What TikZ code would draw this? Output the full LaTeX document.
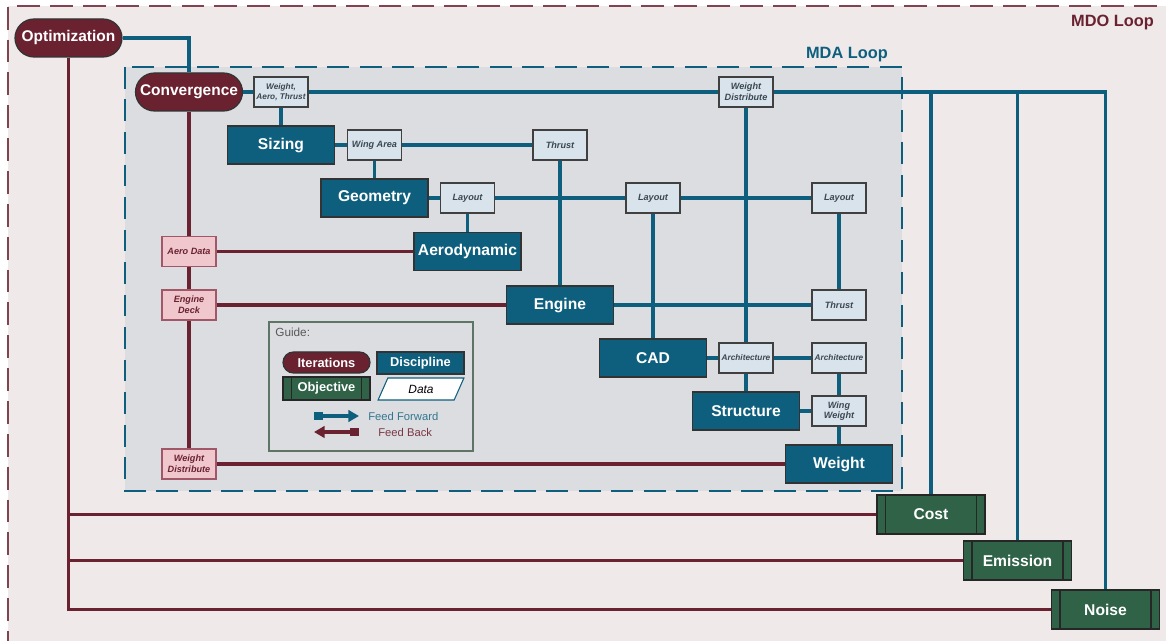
\documentclass[tikz,border=0pt]{standalone}
\usepackage{fontspec}
\setmainfont{Liberation Sans}
\usetikzlibrary{arrows.meta,shapes.geometric}
\definecolor{mdored}{HTML}{6B2230}
\definecolor{mdablue}{HTML}{0E5F7D}
\definecolor{objgreen}{HTML}{2F6246}
\definecolor{datafill}{HTML}{D9E3EC}
\definecolor{datatext}{HTML}{3A4852}
\definecolor{fbfill}{HTML}{EFC7CD}
\definecolor{fbedge}{HTML}{A05868}
\definecolor{mdobg}{HTML}{EFE9EA}
\definecolor{mdabg}{HTML}{DCDDE0}
\definecolor{guideedge}{HTML}{5E7466}

\begin{document}
\begin{tikzpicture}[x=0.02cm,y=-0.02cm,
		iter/.style={draw=black!80,line width=0.7pt,fill=mdored,text=white,inner sep=0pt,
			font=\fontsize{8.8}{10}\selectfont\bfseries,minimum width=2.14cm,minimum height=0.76cm,rounded corners=0.38cm},
		disc/.style={draw=black!80,line width=0.7pt,fill=mdablue,text=white,inner sep=0pt,
			font=\fontsize{8.9}{10}\selectfont\bfseries,minimum width=2.14cm,minimum height=0.76cm},
		objv/.style={draw=black!85,line width=0.7pt,fill=objgreen,text=white,inner sep=0pt,
			font=\fontsize{8.9}{10}\selectfont\bfseries,minimum width=2.16cm,minimum height=0.78cm,
			path picture={
				\draw[black!85,line width=0.7pt] ([xshift=0.17cm]path picture bounding box.north west) -- ([xshift=0.17cm]path picture bounding box.south west);
				\draw[black!85,line width=0.7pt] ([xshift=-0.17cm]path picture bounding box.north east) -- ([xshift=-0.17cm]path picture bounding box.south east);
			}},
		datum/.style={draw=black!75,line width=0.8pt,fill=datafill,text=datatext,inner sep=0pt,align=center,
			font=\fontsize{5.2}{6.1}\selectfont\bfseries\itshape,minimum width=1.08cm,minimum height=0.6cm},
		smalldatum/.style={datum,font=\fontsize{4.7}{5.7}\selectfont\bfseries\itshape},
		fbdata/.style={datum,draw=fbedge,fill=fbfill,text=mdored},
		ffline/.style={draw=mdablue,line width=1.9pt},
		fbline/.style={draw=mdored,line width=1.9pt}]
		\clip (0,0) rectangle (1166,641);
		\fill [white] (0,0) rectangle (1166,641);
		\fill [mdobg] (8,6) rectangle (1190,660);
		\draw [mdored!85,line width=1.1pt,dash pattern=on 13pt off 5.7pt] (1190,6) -- (8,6) -- (8,660);
		\fill [mdabg] (125,67) rectangle (902,491);
		\draw [mdablue,line width=1pt,dash pattern=on 12.5pt off 6pt] (125,67) rectangle (902,491);
		\node [anchor=east,text=mdored,font=\fontsize{9.3}{11}\selectfont\bfseries] (mdolbl) at (1160,22) {MDO Loop};
		\node [anchor=east,text=mdablue,font=\fontsize{9.3}{11}\selectfont\bfseries] (mdalbl) at (894,55) {MDA Loop};
		%
		\node [iter] (opt) at (68.5,38) {Optimization};
		\node [iter] (conv) at (189,92) {Convergence};
		\node [smalldatum] (wat) at (281,92) {Weight,\\Aero, Thrust};
		\node [datum] (wdtop) at (746,92) {Weight\\Distribute};
		\node [disc] (sizing) at (281,145) {Sizing};
		\node [datum] (wingarea) at (374.5,145) {Wing Area};
		\node [datum] (thrusta) at (560,145) {Thrust};
		\node [disc] (geom) at (374.5,198) {Geometry};
		\node [datum] (layouta) at (467.5,198) {Layout};
		\node [datum] (layoutb) at (653,198) {Layout};
		\node [datum] (layoutc) at (839,198) {Layout};
		\node [disc] (aero) at (467.5,251.5) {Aerodynamic};
		\node [disc] (engine) at (560,305) {Engine};
		\node [datum] (thrustb) at (839,305) {Thrust};
		\node [disc] (cad) at (653,358) {CAD};
		\node [smalldatum] (archa) at (746,358) {Architecture};
		\node [smalldatum] (archb) at (839,358) {Architecture};
		\node [disc] (struct) at (746,411) {Structure};
		\node [datum] (wingwt) at (839,411) {Wing\\Weight};
		\node [disc] (weight) at (839,464) {Weight};
		\node [fbdata] (aerodata) at (189,251.5) {Aero Data};
		\node [fbdata] (engdeck) at (189,305) {Engine\\Deck};
		\node [fbdata] (wdleft) at (189,464) {Weight\\Distribute};
		\node [objv] (cost) at (931,514.5) {Cost};
		\node [objv] (emission) at (1017.5,560.5) {Emission};
		\node [objv] (noise) at (1105.5,609.5) {Noise};
		%
		% feed forward
		\draw [ffline] (opt.east) -| (conv.north);
		\draw [ffline] (conv.east) -- (wat.west);
		\draw [ffline] (wat.east) -- (wdtop.west);
		\draw [ffline] (wdtop.east) -| (noise.north);
		\foreach \obj in {cost,emission}
			\draw [ffline] (wdtop.east -| \obj.north) -- (\obj.north);
		\draw [ffline] (wat.south) -- (sizing.north);
		\draw [ffline] (sizing.east) -- (wingarea.west);
		\draw [ffline] (wingarea.east) -- (thrusta.west);
		\draw [ffline] (wingarea.south) -- (geom.north);
		\draw [ffline] (thrusta.south) -- (engine.north);
		\draw [ffline] (geom.east) -- (layouta.west);
		\draw [ffline] (layouta.east) -- (layoutb.west);
		\draw [ffline] (layoutb.east) -- (layoutc.west);
		\draw [ffline] (layouta.south) -- (aero.north);
		\draw [ffline] (layoutb.south) -- (cad.north);
		\draw [ffline] (layoutc.south) -- (thrustb.north);
		\draw [ffline] (engine.east) -- (thrustb.west);
		\draw [ffline] (wdtop.south) -- (archa.north);
		\draw [ffline] (cad.east) -- (archa.west);
		\draw [ffline] (archa.east) -- (archb.west);
		\draw [ffline] (archa.south) -- (struct.north);
		\draw [ffline] (archb.south) -- (wingwt.north);
		\draw [ffline] (struct.east) -- (wingwt.west);
		\draw [ffline] (wingwt.south) -- (weight.north);
		% feed back
		\draw [fbline] (conv.south) -- (aerodata.north);
		\draw [fbline] (aerodata.south) -- (engdeck.north);
		\draw [fbline] (engdeck.south) -- (wdleft.north);
		\draw [fbline] (aerodata.east) -- (aero.west);
		\draw [fbline] (engdeck.east) -- (engine.west);
		\draw [fbline] (wdleft.east) -- (weight.west);
		\foreach \obj in {cost,emission,noise}
			\draw [fbline] (opt.south) |- (\obj.west);
		%
		% guide
		\node [draw=guideedge,line width=0.7pt,fill=mdabg,minimum width=4.08cm,minimum height=2.58cm] (guide) at (371,386.5) {};
		\node [anchor=west,inner sep=0pt,text=black!65,font=\fontsize{6.7}{8}\selectfont] (guidelbl) at (275,332) {Guide:};
		\node [iter,minimum width=1.74cm,minimum height=0.42cm,rounded corners=0.21cm,font=\fontsize{7.3}{8}\selectfont\bfseries] (itlg) at (326.5,362.5) {Iterations};
		\node [disc,minimum width=1.74cm,minimum height=0.44cm,font=\fontsize{7.3}{8}\selectfont\bfseries] (dislg) at (420.5,363) {Discipline};
		\node [objv,minimum width=1.74cm,minimum height=0.46cm,font=\fontsize{7.3}{8}\selectfont\bfseries] (objlg) at (326.5,388.5) {Objective};
		\node [trapezium,trapezium left angle=66,trapezium right angle=114,trapezium stretches=true,draw=mdablue,line width=0.6pt,fill=white,
			inner sep=0pt,minimum width=1.72cm,minimum height=0.44cm,font=\fontsize{6.8}{8}\selectfont\itshape] (datlg) at (421,389) {Data};
		\coordinate (ffa) at (314,416);
		\coordinate (ffb) at (359,416);
		\coordinate (fba) at (359,432);
		\coordinate (fbb) at (314,432);
		\draw [ffline,{Square[length=5pt,width=5pt]}-{Triangle[length=6pt,width=6.5pt]}] (ffa) -- (ffb);
		\draw [fbline,{Square[length=5pt,width=5pt]}-{Triangle[length=6pt,width=6.5pt]}] (fba) -- (fbb);
		\node [anchor=west,inner sep=0pt,text=mdablue!85,font=\fontsize{6.4}{8}\selectfont] (fflbl) at (368,416) {Feed Forward};
		\node [anchor=west,inner sep=0pt,text=mdored!90,font=\fontsize{6.4}{8}\selectfont] (fblbl) at (378,432) {Feed Back};
	\end{tikzpicture}
\end{document}
